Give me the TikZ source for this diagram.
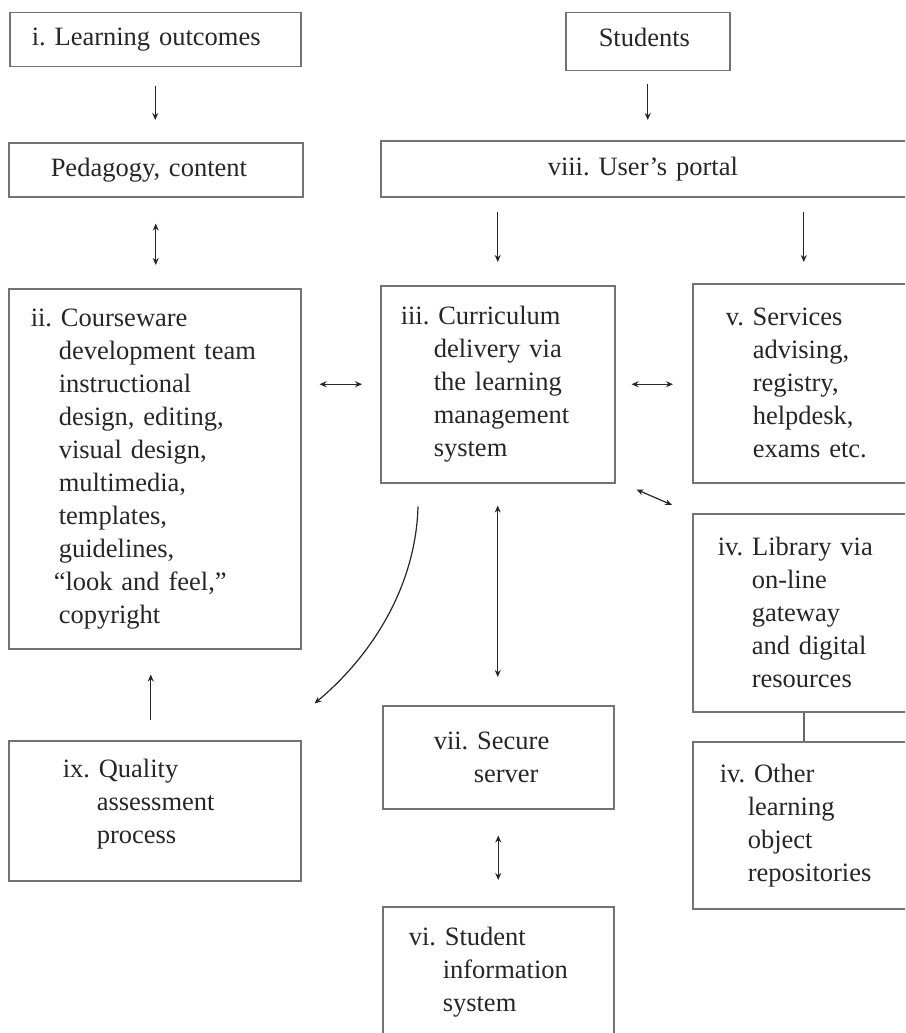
\documentclass[tikz,border=0pt]{standalone}
\usepackage{fontspec}
\setmainfont{Liberation Serif}
\usetikzlibrary{calc,arrows.meta}
\newcommand{\hx}[1]{\hspace*{#1pt}}
\frenchspacing
\tikzset{
  box/.style={draw=black!55, line width=1.5pt, rectangle, anchor=north west,
    inner ysep=0pt, align=left, font=\fontsize{26.5}{33}\selectfont\frenchspacing, text=black!85},
  arr/.style={draw=black!85, line width=1.2pt, -{Stealth[length=7pt,width=6pt]}},
  darr/.style={draw=black!85, line width=1.2pt, {Stealth[length=7pt,width=6pt]}-{Stealth[length=7pt,width=6pt]}},
  link/.style={draw=black!60, line width=1.5pt}
}
\begin{document}
\begin{tikzpicture}[x=1pt,y=-1pt]
\useasboundingbox (0,0) rectangle (905,1033);
\clip (0,0) rectangle (905,1033);
% top row
\node[box, inner xsep=22pt, text width=247pt, minimum height=54pt, text depth=6pt] (i) at (9,12) {i. Learning outcomes};
\node[box, inner xsep=42pt, text width=210pt, minimum height=54pt] (ped) at (8,142) {Pedagogy, content};
\node[box, inner xsep=33pt, text width=98pt, minimum height=58pt, text depth=8pt] (stu) at (565,12) {Students};
\node[box, inner xsep=167pt, text width=200pt, minimum height=56pt] (portal) at (380,140) {viii. User’s portal};
% middle
\node[box, inner xsep=22pt, text width=248pt, minimum height=360pt] (ii) at (8,288)
  {ii. Courseware\\\hx{28}development team\\\hx{28}instructional\\\hx{28}design, editing,\\\hx{28}visual design,\\\hx{28}multimedia,\\\hx{28}templates,\\\hx{28}guidelines,\\\hx{23}“look and feel,”\\\hx{28}copyright};
\node[box, inner xsep=20pt, text width=194pt, minimum height=197pt] (iii) at (380,285)
  {iii. Curriculum\\\hx{33}delivery via\\\hx{33}the learning\\\hx{33}management\\\hx{33}system};
\node[box, inner xsep=33pt, text width=156pt, minimum height=199pt] (v) at (692,283)
  {v. Services\\\hx{27}advising,\\\hx{27}registry,\\\hx{27}helpdesk,\\\hx{27}exams etc.};
\node[box, inner xsep=25pt, text width=172pt, minimum height=198pt] (lib) at (692,513)
  {iv. Library via\\\hx{34}on-line\\\hx{34}gateway\\\hx{34}and digital\\\hx{34}resources};
\node[box, inner xsep=27pt, text width=168pt, minimum height=167pt] (oth) at (692,741)
  {iv. Other\\\hx{28}learning\\\hx{28}object\\\hx{28}repositories};
% lower
\node[box, inner xsep=51pt, text width=129pt, minimum height=103pt] (vii) at (382,705)
  {vii. Secure\\\hx{40}server};
\node[box, inner xsep=26pt, text width=179pt, minimum height=131pt] (vi) at (382,906)
  {vi. Student\\\hx{34}information\\\hx{34}system};
\node[box, inner xsep=54pt, text width=184pt, minimum height=140pt] (ix) at (8,740)
  {ix. Quality\\\hx{34}assessment\\\hx{34}process\rule[-18pt]{0pt}{1pt}};
% connectors
\draw[arr] ($(i.south)+(0,18)$) -- ($(i.south|-ped.north)+(0,-22)$);
\draw[arr] ($(stu.south)+(0,12)$) -- ($(stu.south|-portal.north)+(0,-20)$);
\draw[arr] ($(iii.north|-portal.south)+(0,14)$) -- ($(iii.north)+(0,-23)$);
\draw[arr] ($(v.north|-portal.south)+(0,14)$) -- ($(v.north)+(0,-21)$);
\draw[darr] ($(ped.south)+(0,26)$) -- ($(ped.south|-ii.north)+(0,-23)$);
\draw[darr] ($(ii.east|-iii.west)+(18,0)$) -- ($(iii.west)+(-18,0)$);
\draw[darr] ($(iii.east)+(16,0)$) -- ($(iii.east-|v.west)+(-19,0)$);
\draw[darr] ($(iii.south east)+(21,6)$) -- ($(lib.north west)+(-20,-8)$);
\draw[darr] ($(iii.south)+(0,22)$) -- ($(iii.south|-vii.north)+(0,-28)$);
\draw[darr] ($(vii.south)+(0,26)$) -- ($(vii.south|-vi.north)+(0,-26)$);
\draw[arr] ($(ix.north)+(-4,-20)$) -- ($(ix.north|-ii.south)+(-4,25)$);
\draw[link] (lib.south) -- (oth.north);
\draw[arr] ($(iii.south west)+(38,23)$) .. controls +(-2,75) and +(62,-52) .. ($(ii.south east)+(13,54)$);
\end{tikzpicture}
\end{document}
